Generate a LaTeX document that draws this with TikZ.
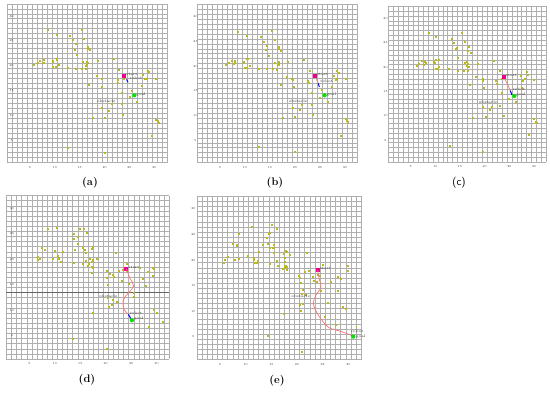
\documentclass[tikz,border=0pt]{standalone}
\definecolor{obsfill}{RGB}{185,185,30}
\definecolor{gridc}{RGB}{175,175,175}
\definecolor{pathc}{RGB}{255,120,120}
\definecolor{txtc}{RGB}{50,50,50}
\tikzset{
  gridline/.style={draw=gridc, line width=0.4pt},
  darkline/.style={draw=black!60, line width=0.5pt},
  tick/.style={font=\fontsize{3}{3}\selectfont, text=txtc, inner sep=0},
  obs/.style={rectangle, minimum size=1.7pt, inner sep=0, fill=obsfill},
  startpt/.style={rectangle, minimum size=3.8pt, inner sep=0, fill=magenta},
  goalpt/.style={circle, minimum size=4.2pt, inner sep=0, fill=green!90!black},
  lbl/.style={font=\fontsize{3.8}{4}\selectfont, text=txtc, inner sep=0.3pt, anchor=west},
  trail/.style={draw=pathc, line width=0.75pt},
  robotline/.style={draw=blue, line width=1pt},
  captxt/.style={font=\bfseries\fontsize{11}{13}\selectfont}
}
\newcommand{\gridstuff}[1]{%
  \foreach \k in {0,...,32}{%
    \draw[gridline] (\k+0.5,0.5) -- (\k+0.5,32.5);
    \draw[gridline] (0.5,\k+0.5) -- (32.5,\k+0.5);
  }
  \foreach \t in {5,10,...,30}{%
    \node[tick] at (\t,-0.45) {\t};
    \node[tick] at (#1,\t) {\t};
  }
}
\begin{document}
\begin{tikzpicture}[x=1pt,y=-1pt]
\useasboundingbox[fill=white] (0,0) rectangle (550,392);

% ---------------- (a)
\begin{scope}[shift={(0,0)}, x={(0.3333pt,0)}, y={(0,-0.3333pt)}]
  \begin{scope}[shift={(15.4,495)}, xscale=14.92, yscale=-14.88]
    \gridstuff{1.3}
  \end{scope}
  \foreach \p in {(145,90),(245,90),(170,105),(210,108),(218,120),(253,117),(228,133),(265,142),(263,146),(270,151),(224,150),(232,166),(343,178),(293,183),(250,187),(262,186),(265,190),(262,194),(258,197),(103,194),(113,188),(120,182),(133,180),(133,188),(130,190),(158,183),(158,187),(170,177),(170,180),(178,195),(160,202),(168,202),(203,205),(228,208),(246,208),(258,207),(357,210),(443,212),(447,217),(290,228),(305,236),(307,238),(268,256),(307,260),(353,241),(355,248),(430,225),(435,237),(440,237),(468,236),(427,257),(397,272),(367,279),(390,291),(412,306),(337,313),(365,313),(307,325),(327,333),(370,345),(315,354),(278,355),(468,360),(473,364),(476,370),(455,408),(205,443),(315,458),(372,237)}
    \node[obs] at \p {};
  \node[startpt] (sa) at (373,227) {};
  \coordinate (ra) at (380,238);
  \coordinate (rae) at (384,247);
  \draw[trail] (sa) -- (ra);
  \draw[robotline] (ra) -- (rae);
  \node[goalpt] (ga) at (403,286) {};
  \node[lbl] (lsa) at (378,222) {start};
  \node[lbl] (lra) at (388,235) {robot};
  \node[lbl] (lga) at (408,283) {goal};
  \node[lbl] (loa) at (290,305) {obstacle};
\end{scope}
\node[captxt] (ca) at (90,183) {(a)};

% ---------------- (b)
\begin{scope}[shift={(185,0)}, x={(0.3333pt,0)}, y={(0,-0.3333pt)}]
  \begin{scope}[shift={(30,495)}, xscale=15.0, yscale=-14.84]
    \gridstuff{0.1}
  \end{scope}
  \foreach \p in {(160,95),(262,93),(187,108),(229,110),(270,120),(236,125),(245,138),(283,140),(281,147),(288,153),(243,150),(251,168),(358,180),(309,186),(270,188),(281,187),(283,192),(278,195),(282,195),(123,195),(133,190),(140,183),(151,182),(150,188),(148,191),(176,185),(176,188),(187,178),(190,178),(195,197),(180,203),(187,203),(222,207),(246,208),(263,208),(275,209),(374,212),(457,213),(462,219),(306,230),(322,237),(323,240),(287,256),(326,262),(370,242),(372,248),(446,227),(453,239),(455,238),(483,237),(442,260),(410,271),(382,278),(404,293),(428,307),(352,314),(380,314),(324,323),(344,331),(385,345),(330,352),(294,355),(484,358),(487,364),(490,367),(468,408),(223,440),(330,457),(393,232)}
    \node[obs] at \p {};
  \node[startpt] (sb) at (390,228) {};
  \coordinate (rb) at (400,250);
  \coordinate (rbe) at (403,261);
  \draw[trail] (sb) -- (rb);
  \draw[robotline] (rb) -- (rbe);
  \node[goalpt] (gb) at (419,286) {};
  \node[lbl] (lsb) at (395,224) {start};
  \node[lbl] (lrb) at (405,245) {robot};
  \node[lbl] (lgb) at (424,283) {goal};
  \node[lbl] (lob) at (310,305) {obstacle};
\end{scope}
\node[captxt] (cb) at (275,183) {(b)};

% ---------------- (c)
\begin{scope}[shift={(365,0)}, x={(0.3333pt,0)}, y={(0,-0.3333pt)}]
  \begin{scope}[shift={(63,494)}, xscale=14.8, yscale=-14.64]
    \gridstuff{-0.1}
  \end{scope}
  \foreach \p in {(192,100),(290,100),(213,112),(260,117),(300,127),(266,130),(277,143),(311,140),(310,152),(317,160),(273,147),(278,175),(387,182),(338,191),(300,190),(307,186),(308,193),(307,198),(312,200),(157,197),(163,192),(170,183),(180,186),(182,188),(178,195),(208,187),(209,190),(213,180),(223,180),(221,200),(212,207),(219,207),(253,208),(280,212),(297,213),(309,212),(406,214),(485,215),(489,224),(333,230),(354,238),(355,244),(316,254),(357,265),(393,244),(396,252),(469,228),(475,242),(480,238),(507,240),(471,265),(410,278),(432,297),(452,307),(381,322),(405,317),(355,320),(375,330),(416,348),(362,351),(323,355),(506,357),(513,367),(516,368),(492,405),(255,438),(355,456),(411,236)}
    \node[obs] at \p {};
  \node[startpt] (sc) at (417,230) {};
  \coordinate (rc) at (436,272);
  \coordinate (rce) at (441,285);
  \draw[trail] (sc) -- (rc);
  \draw[robotline] (rc) -- (rce);
  \node[goalpt] (gc) at (448,288) {};
  \node[lbl] (lsc) at (422,226) {start};
  \node[lbl] (lrc) at (442,268) {robot};
  \node[lbl] (lgc) at (453,285) {goal};
  \node[lbl] (loc) at (340,307) {obstacle};
\end{scope}
\node[captxt,font=\sffamily\fontsize{11}{13}\selectfont] (cc) at (459,183) {(c)};

% ---------------- (d)
\begin{scope}[shift={(0,195)}, x={(0.3333pt,0)}, y={(0,-0.3333pt)}]
  \begin{scope}[shift={(11.6,499.6)}, xscale=15.28, yscale=-15.32]
    \gridstuff{1.6}
    \draw[darkline] (0.5,13.5) -- (32.5,13.5);
  \end{scope}
  \foreach \p in {(145,103),(170,99),(222,117),(240,101),(252,103),(262,115),(222,133),(234,125),(233,147),(226,164),(250,160),(257,174),(255,165),(278,155),(277,162),(270,191),(280,195),(290,191),(268,208),(265,213),(276,202),(275,215),(280,218),(277,235),(347,173),(125,158),(135,164),(115,185),(120,192),(113,195),(158,191),(165,168),(175,183),(177,188),(178,193),(183,200),(190,170),(223,203),(248,208),(258,198),(321,228),(330,236),(338,240),(342,247),(358,228),(370,225),(382,208),(381,228),(367,258),(388,268),(320,250),(325,271),(420,220),(429,251),(437,272),(444,232),(460,218),(461,222),(460,243),(402,293),(403,307),(325,308),(340,315),(352,321),(335,330),(327,336),(280,355),(463,345),(471,354),(490,380),(446,397),(220,432),(320,462)}
    \node[obs] at \p {};
  \node[startpt] (sd) at (379,222) {};
  \coordinate (rd) at (385,358);
  \draw[trail] plot[smooth, tension=0.6] coordinates {(379,222) (390,250) (401,273) (386,293) (370,315) (372,343) (385,358)};
  \node[goalpt] (gd) at (396,376) {};
  \draw[robotline] (rd) -- (gd);
  \node[lbl] (lsd) at (384,218) {start};
  \node[lbl] (lrd) at (388,354) {robot};
  \node[lbl] (lgd) at (401,372) {goal};
  \node[lbl] (lod) at (296,303) {obstacle};
\end{scope}
\node[captxt] (cd) at (87,380) {(d)};

% ---------------- (e)
\begin{scope}[shift={(185,195)}, x={(0.3333pt,0)}, y={(0,-0.3333pt)}]
  \begin{scope}[shift={(28,501.6)}, xscale=15.4, yscale=-15.32]
    \gridstuff{-0.2}
  \end{scope}
  \foreach \p in {(162,118),(200,97),(262,90),(275,102),(255,113),(253,117),(246,130),(248,148),(235,150),(254,160),(267,150),(268,160),(266,173),(265,158),(145,147),(155,150),(157,152),(190,182),(206,190),(208,195),(210,203),(218,198),(215,204),(222,172),(128,187),(120,195),(117,203),(150,195),(162,193),(276,197),(279,214),(298,178),(302,167),(305,170),(300,190),(315,180),(299,200),(301,212),(299,218),(303,213),(305,225),(293,223),(305,216),(254,208),(367,175),(360,230),(372,228),(343,244),(346,248),(347,264),(355,284),(352,298),(354,328),(346,330),(348,347),(363,300),(385,245),(386,258),(395,262),(400,240),(415,211),(405,243),(408,288),(428,323),(437,262),(458,289),(460,245),(468,252),(474,335),(483,343),(490,212),(490,227),(452,390),(515,397),(297,357),(420,367),(248,424),(351,470)}
    \node[obs] at \p {};
  \node[startpt] (se) at (398,225) {};
  \coordinate (re) at (499,421);
  \draw[trail] plot[smooth, tension=0.6] coordinates {(398,225) (403,253) (408,277) (393,300) (385,325) (395,352) (412,377) (432,398) (470,410) (499,421)};
  \node[goalpt] (ge) at (505,425) {};
  \draw[robotline] (re) -- (ge);
  \node[lbl] (lse) at (403,221) {start};
  \node[lbl] (lre) at (497,409) {robot};
  \node[lbl] (lge) at (512,426) {goal};
  \node[lbl] (loe) at (318,305) {obstacle};
\end{scope}
\node[captxt] (ce) at (277,381) {(e)};
\end{tikzpicture}
\end{document}
